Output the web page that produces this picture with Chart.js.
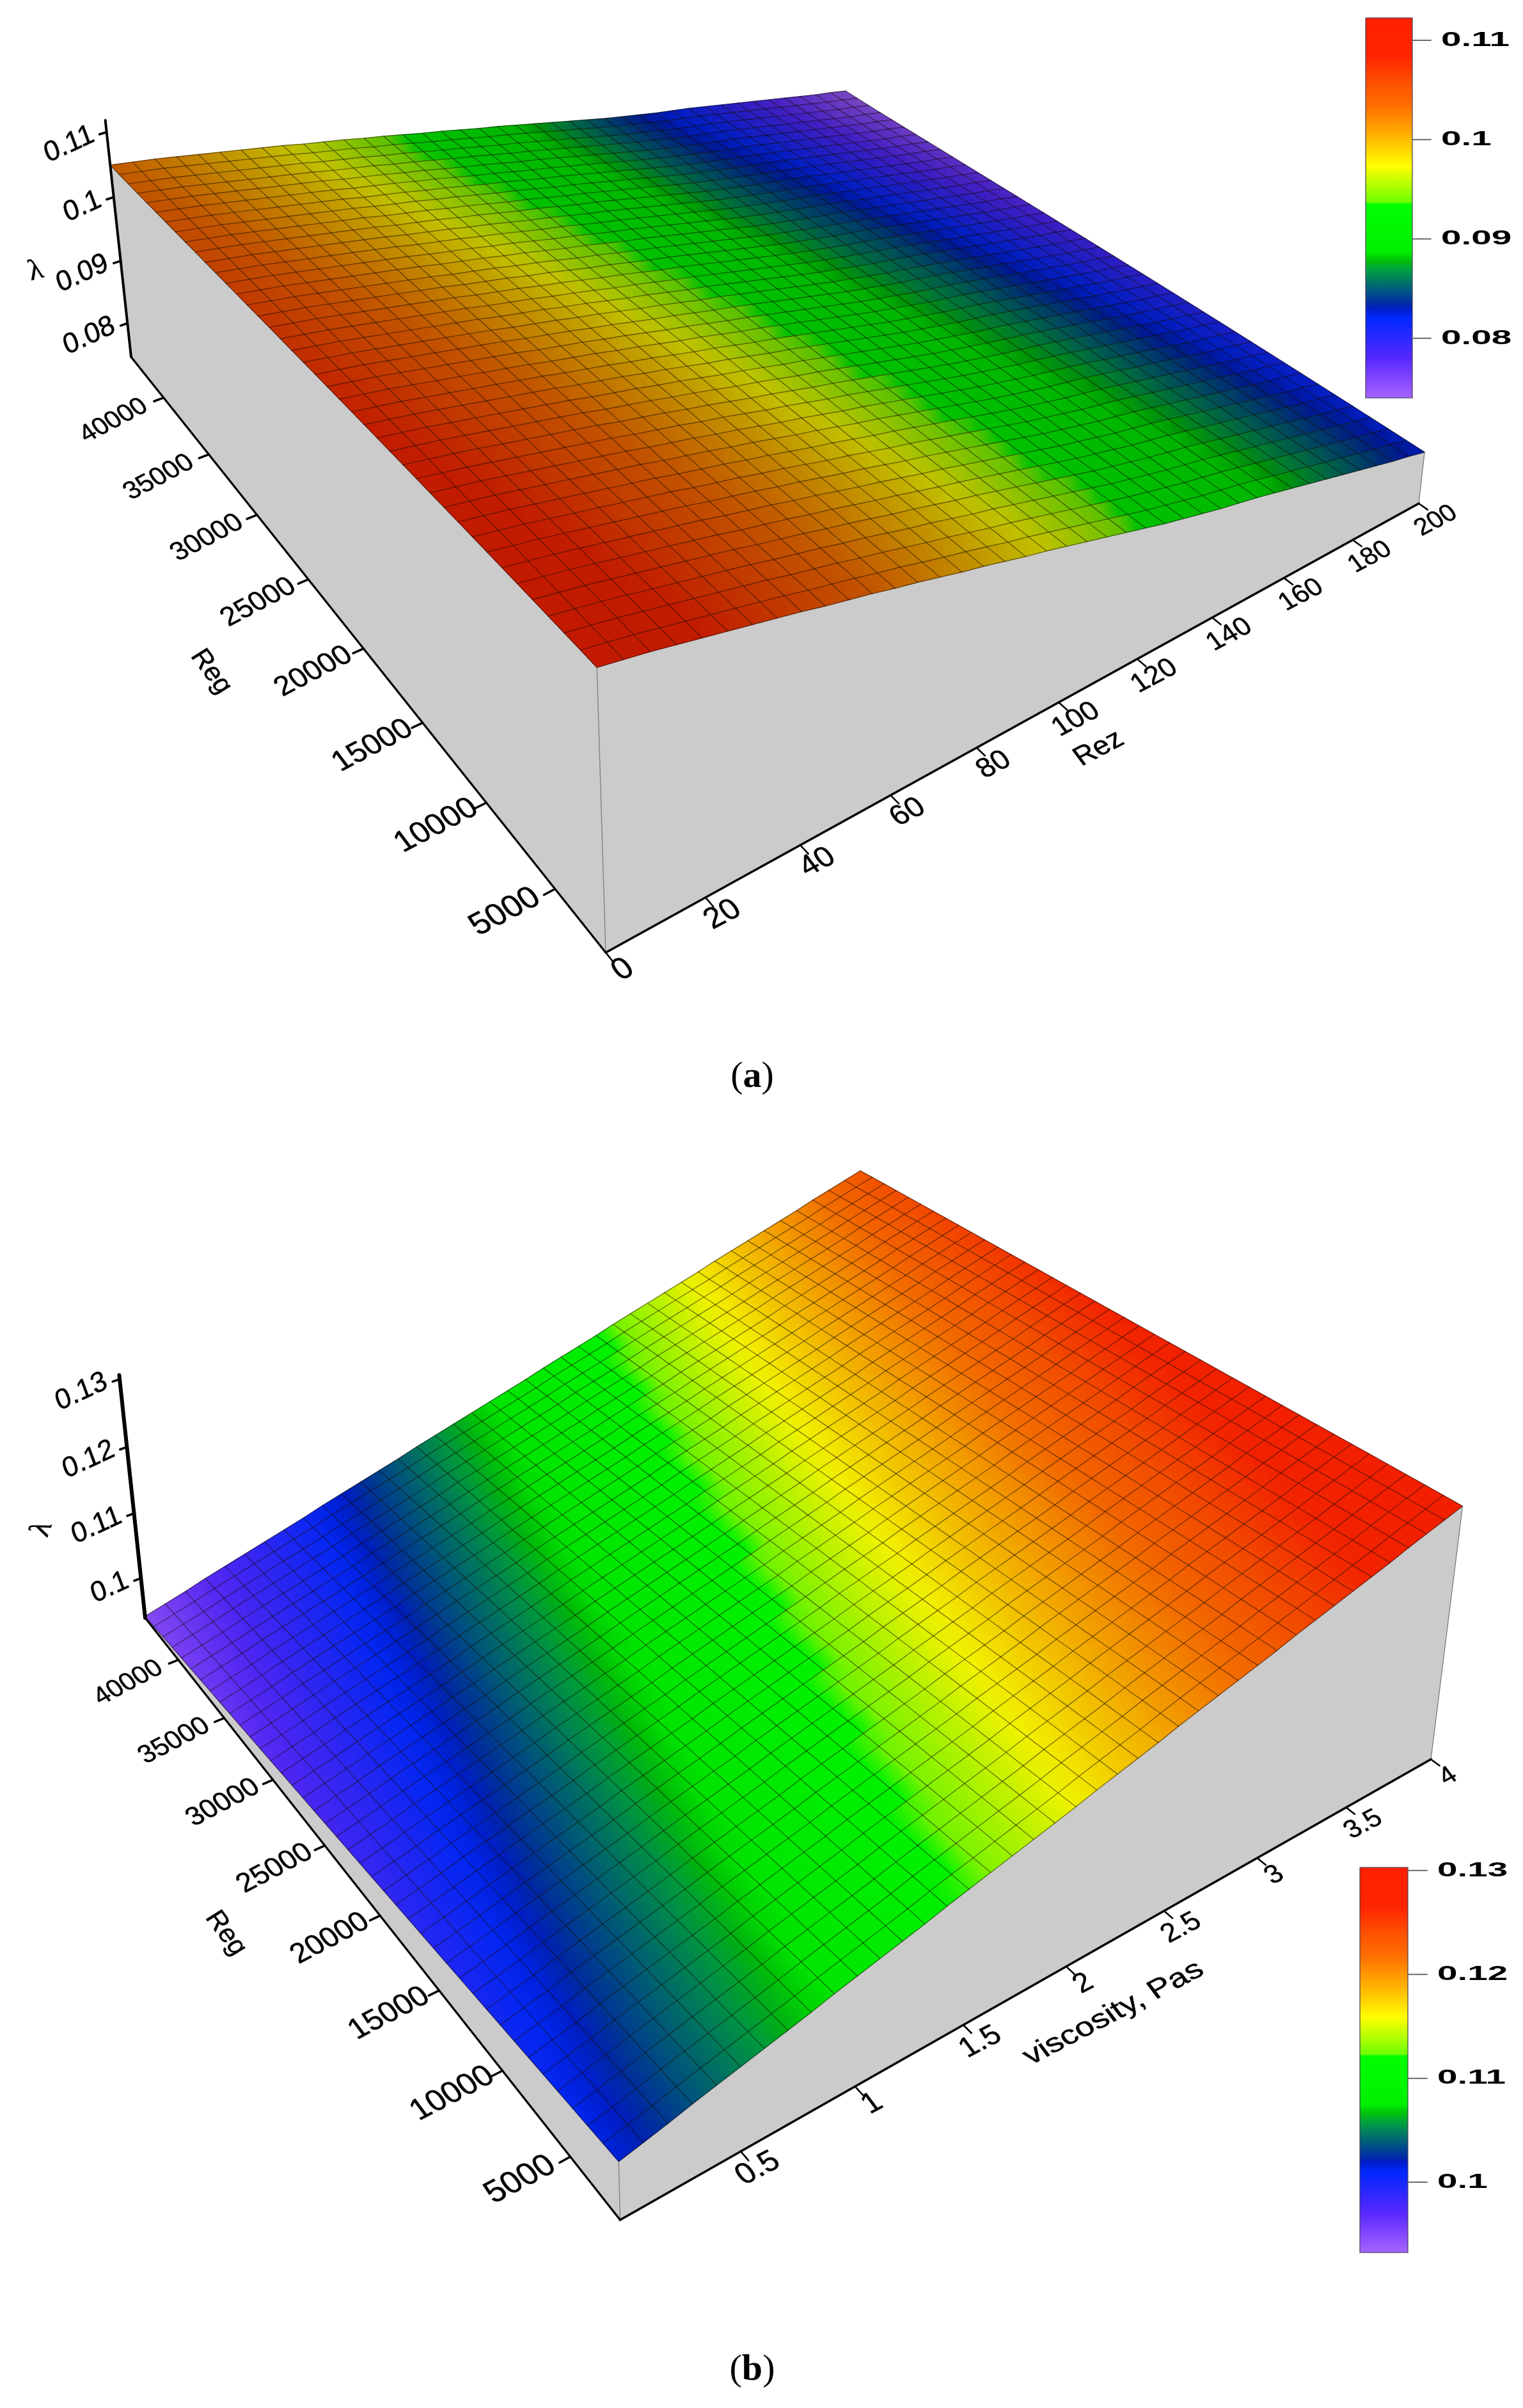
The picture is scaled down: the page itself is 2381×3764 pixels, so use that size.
<!DOCTYPE html>
<html><head><meta charset="utf-8">
<style>
html,body{margin:0;padding:0;background:#fff;width:2381px;height:3764px;overflow:hidden}
canvas{position:absolute;left:0;filter:blur(0.6px)}
.cap{position:absolute;left:1076px;width:200px;text-align:center;font:58px "Liberation Serif",serif;color:#000}
</style>
<script src="https://cdn.jsdelivr.net/npm/chart.js@4/dist/chart.umd.js"></script>
</head><body>
<canvas id="ca" width="2381" height="1750" style="top:0"></canvas>
<canvas id="cb" width="2381" height="2014" style="top:1750px"></canvas>
<div class="cap" style="top:1646px">(<b>a</b>)</div>
<div class="cap" style="top:3667px">(<b>b</b>)</div>
<script>
// ---------- values ----------
const rezTicks = [0,20,40,60,80,100,120,140,160,180,200];
const viscTicks = [0.5,1,1.5,2,2.5,3,3.5,4];
const regTicks = [5000,10000,15000,20000,25000,30000,35000,40000];
const lambdaTicksA = [0.08,0.09,0.1,0.11];
const lambdaTicksB = [0.1,0.11,0.12,0.13];
const rezRange = [0,200];
const viscRange = [0,4];
const regRange = [1550,43800];
// lambda along the front edge (lowest Reg), one value per mesh line
const lambdaFrontA = [
 .1112,.1106,.1100,.1093,.1086,.1079,.1072,.1065,.1058,.1050,
 .1043,.1036,.1028,.1021,.1013,.1005,.0998,.0990,.0982,.0975,
 .0967,.0959,.0951,.0943,.0935,.0927,.0920,.0913,.0906,.0900,
 .0894,.0887,.0880,.0873,.0866,.0859,.0852,.0845,.0838,.0832,.0825];
const lambdaFrontB = [
 .1015,.1022,.1029,.1037,.1044,.1051,.1058,.1065,.1072,.1080,
 .1087,.1094,.1101,.1108,.1116,.1123,.1130,.1137,.1144,.1151,
 .1158,.1166,.1173,.1180,.1187,.1195,.1202,.1209,.1216,.1223,
 .1230,.1238,.1245,.1252,.1259,.1266,.1273,.1281,.1288,.1295,.1302];
// relative fall of lambda going back along Reg, one value per mesh line
const regFallA = [
 1.0000,.9988,.9976,.9963,.9950,.9936,.9922,.9908,.9893,.9878,
 .9863,.9847,.9831,.9815,.9798,.9781,.9764,.9746,.9728,.9710,
 .9692,.9673,.9654,.9635,.9616,.9596,.9576,.9556,.9536,.9516,
 .9496,.9476,.9456,.9436,.9416,.9396,.9376,.9356,.9338,.9322,.9307];
const regFallB = [
 1.0000,.9986,.9972,.9957,.9943,.9928,.9913,.9898,.9883,.9868,
 .9853,.9838,.9823,.9808,.9793,.9778,.9763,.9748,.9733,.9718,
 .9703,.9688,.9673,.9658,.9643,.9628,.9613,.9598,.9583,.9568,
 .9553,.9538,.9523,.9508,.9493,.9478,.9463,.9448,.9432,.9416,.9400];
// colour map: fraction from top of the legend, r, g, b
const colorStops = [
 [0,255,32,0],[.10,255,36,0],[.17,255,80,0],[.23,255,110,0],[.30,255,170,0],[.345,255,210,0],
 [.39,255,255,0],[.44,180,255,0],[.485,110,255,0],[.49,0,255,0],[.615,0,240,0],[.64,0,190,10],
 [.66,0,165,60],[.70,0,110,110],[.755,0,40,170],[.765,0,30,200],[.79,0,40,255],[.84,40,40,255],
 [.895,85,40,255],[.95,130,70,255],[1,165,100,255]];

// ---------- frame of each panel (page pixels, style only) ----------
const panels = [
 {id:'ca',yTop:0,yBottom:1750,
  uRange:rezRange,uTicks:rezTicks,uTitle:'Rez',
  front:lambdaFrontA,fall:regFallA,fallRef:.09,colorShift:.002,zTicks:lambdaTicksA,
  lo:0.0745,hi:0.1130,axisTop:.1118,
  base:[[947,1489],[2218,787],[1322,157],[205,558]],
  vanish:[1202,9700],zeta:.054,
  shade:.76,axisW:4,
  uTitlePos:[1718,1170],uTitleK:1,
  regTitlePos:[330,1050],lamPos:[56,424],lamRot:-15*Math.PI/180,
  bar:{x0:2135,x1:2208,y0:28,y1:622,vTop:.11225,vBottom:.0740,tx:2237,lx:2253,ticks:[.08,.09,.1,.11]}},
 {id:'cb',yTop:1750,yBottom:3764,
  uRange:viscRange,uTicks:viscTicks,uTitle:'viscosity, Pas',
  front:lambdaFrontB,fall:regFallB,fallRef:.125,colorShift:-.0006,zTicks:lambdaTicksB,
  lo:0.09375,hi:0.1306,axisTop:.1306,
  base:[[969.5,3470],[2237,2750],[1340,2094],[227,2529]],
  vanish:[1166,11300],zeta:.0547,
  shade:.95,axisW:6,
  uTitlePos:[1741,3147],uTitleK:1.35,
  regTitlePos:[353,3022],lamPos:[66,2390],lamRot:-70*Math.PI/180,
  bar:{x0:2126,x1:2201,y0:2919,y1:3521,vTop:.1303,vBottom:.09323,tx:2231,lx:2247,ticks:[.1,.11,.12,.13]}}
];

function homography(q){
  const [p0,p1,p2,p3]=q;
  const sx=p0[0]-p1[0]+p2[0]-p3[0], sy=p0[1]-p1[1]+p2[1]-p3[1];
  const dx1=p1[0]-p2[0], dx2=p3[0]-p2[0], dy1=p1[1]-p2[1], dy2=p3[1]-p2[1];
  const den=dx1*dy2-dx2*dy1;
  const g=(sx*dy2-dx2*sy)/den, h=(dx1*sy-sx*dy1)/den;
  const a=p1[0]-p0[0]+g*p1[0], b=p3[0]-p0[0]+h*p3[0], c=p0[0];
  const d=p1[1]-p0[1]+g*p1[1], e=p3[1]-p0[1]+h*p3[1], f=p0[1];
  return (u,v)=>[a*u+b*v+c,d*u+e*v+f,g*u+h*v+1];
}
function cmap(fr,shade){
  fr=Math.max(0,Math.min(1,fr));
  let i=0;while(i<colorStops.length-2&&colorStops[i+1][0]<fr)i++;
  const s0=colorStops[i],s1=colorStops[i+1],t=(fr-s0[0])/(s1[0]-s0[0]);
  const c=[1,2,3].map(k=>Math.round((s0[k]+(s1[k]-s0[k])*t)*shade));
  return `rgb(${c[0]},${c[1]},${c[2]})`;
}
const SANS='"Liberation Sans",Arial,sans-serif', SERIF='"Liberation Serif",serif';
const E1=[.885,-.465], E2=[-.6,-.8];

panels.forEach(P=>{
  const canvas=document.getElementById(P.id), gctx=canvas.getContext('2d');
  const H=homography(P.base);
  const project=(u,v,l)=>{
    const t=(l-P.lo)/(P.hi-P.lo)*P.zeta, n=H(u,v), den=n[2]-t;
    return {x:(n[0]-t*P.vanish[0])/den,y:(n[1]-t*P.vanish[1])/den};
  };
  const uOf=val=>(val-P.uRange[0])/(P.uRange[1]-P.uRange[0]);
  const vOf=val=>(val-regRange[0])/(regRange[1]-regRange[0]);
  const nI=P.front.length-1,nJ=P.fall.length-1;
  const lam=(i,j)=>P.front[i]-(1-P.fall[j])*P.fallRef;
  const tone=(i,j)=>lam(i,j)-P.colorShift*j/nJ;
  const node=(i,j)=>project(i/nI,j/nJ,lam(i,j));
  const frac=v=>(P.bar.vTop-v)/(P.bar.vTop-P.bar.vBottom);
  const mid=(a,b)=>({x:(a.x+b.x)/2,y:(a.y+b.y)/2});
  const ds=[];
  const poly=(pts,fill,line,lw)=>ds.push({data:pts.concat([pts[0]]),showLine:true,fill:'shape',backgroundColor:fill,borderColor:line||fill,borderWidth:lw==null?1:lw,pointRadius:0,clip:false});
  const path=(pts,color,lw)=>ds.push({data:pts,showLine:true,fill:false,borderColor:color,borderWidth:lw,pointRadius:0,clip:false,borderCapStyle:'round',borderJoinStyle:'round'});

  // side walls
  const wallGrey='#cbcbcb';
  const left=[project(0,1,P.lo),project(0,0,P.lo)];
  for(let j=0;j<=nJ;j++)left.push(node(0,j));
  poly(left,wallGrey);
  const right=[project(0,0,P.lo),project(1,0,P.lo)];
  for(let i=nI;i>=0;i--)right.push(node(i,0));
  poly(right,wallGrey);

  // surface cells (gradients live in canvas pixels, so shift by the canvas top)
  for(let j=nJ-1;j>=0;j--)for(let i=0;i<nI;i++){
    const a=node(i,j),b=node(i+1,j),c=node(i+1,j+1),d=node(i,j+1);
    const p0=mid(a,d),p1=mid(b,c);
    const gr=gctx.createLinearGradient(p0.x,p0.y-P.yTop,p1.x,p1.y-P.yTop);
    gr.addColorStop(0,cmap(frac((tone(i,j)+tone(i,j+1))/2),P.shade));
    gr.addColorStop(1,cmap(frac((tone(i+1,j)+tone(i+1,j+1))/2),P.shade));
    poly([a,b,c,d],gr,gr,1);
  }
  // mesh
  const meshC='rgba(20,10,0,.5)';
  for(let i=0;i<=nI;i++){const l=[];for(let j=0;j<=nJ;j++)l.push(node(i,j));path(l,meshC,1.4);}
  for(let j=0;j<=nJ;j++){const l=[];for(let i=0;i<=nI;i++)l.push(node(i,j));path(l,meshC,1.4);}

  // box edges
  path([project(0,0,P.lo),node(0,0)],'#777',1.2);
  path([project(1,0,P.lo),node(nI,0)],'#777',1.2);

  // axes and ticks
  path([project(0,1,P.lo),project(0,1,P.axisTop)],'#000',P.axisW);
  path([project(0,1,P.lo),project(0,0,P.lo)],'#000',3.2);
  path([project(0,0,P.lo),project(1,0,P.lo)],'#000',3.6);
  P.zTicks.forEach(z=>path([project(0,1,z),project(-.008,1,z)],'#000',3.5));
  regTicks.forEach(r=>path([project(0,vOf(r),P.lo),project(-.011,vOf(r),P.lo)],'#000',3.5));
  P.uTicks.forEach(t=>path([project(uOf(t),0,P.lo),project(uOf(t),-.012,P.lo)],'#000',2.6));

  // colour legend, drawn on the same scales
  const br=P.bar, barGrad=gctx.createLinearGradient(0,br.y0-P.yTop,0,br.y1-P.yTop);
  colorStops.forEach(s=>barGrad.addColorStop(s[0],`rgb(${s[1]},${s[2]},${s[3]})`));
  poly([{x:br.x0,y:br.y0},{x:br.x1,y:br.y0},{x:br.x1,y:br.y1},{x:br.x0,y:br.y1}],barGrad,'rgba(70,60,90,.75)',1.6);
  const barY=v=>br.y0+(br.vTop-v)/(br.vTop-br.vBottom)*(br.y1-br.y0);
  br.ticks.forEach(v=>path([{x:br.x1,y:barY(v)},{x:br.tx,y:barY(v)}],'#6a6a6a',2));

  ds.forEach((d,k)=>{d.order=ds.length-k;});

  const textPlugin={id:'labels',afterDatasetsDraw(chart){
    const ctx=chart.ctx,X=chart.scales.x,Y=chart.scales.y;
    const put=(txt,x,y,e1,e2,size,align,font,k=1,h=1,weight=.5)=>{
      ctx.save();
      ctx.transform(e1[0]*k,e1[1]*k,-e2[0]*h,-e2[1]*h,X.getPixelForValue(x),Y.getPixelForValue(y));
      ctx.font=font||`${size}px ${SANS}`;
      ctx.textAlign=align||'center';ctx.textBaseline='middle';ctx.fillStyle='#000';
      ctx.fillText(txt,0,0);
      if(weight){ctx.strokeStyle='#000';ctx.lineWidth=weight;ctx.strokeText(txt,0,0);}
      ctx.restore();
    };
    const pers=(u,v)=>1.25/H(u,v)[2];
    // lambda axis
    const ze1=[.906,-.42],ze2=[-.35,-.94];
    P.zTicks.forEach(z=>{const p=project(0,1,z);put(String(z),p.x-21,p.y+2,ze1,ze2,44,'right');});
    // Reg axis
    regTicks.forEach(r=>{const v=vOf(r),p=project(0,v,P.lo);put(String(r),p.x-78,p.y+36,E1,E2,42*pers(0,v));});
    // u axis
    P.uTicks.forEach(t=>{const u=uOf(t),p=project(u,0,P.lo);put(String(t),p.x+27,p.y+27,E1,E2,40*pers(u,0));});
    // titles
    put(P.uTitle,P.uTitlePos[0],P.uTitlePos[1],E1,E2,44,'center',null,P.uTitleK*(P.uTitle==='Rez'?1:.87),1);
    put('Reg',P.regTitlePos[0],P.regTitlePos[1],[.6,.8],[.85,-.53],42);
    const c=Math.cos(P.lamRot),s=Math.sin(P.lamRot);
    put('λ',P.lamPos[0],P.lamPos[1],[c,s],[s,-c],46,'center',`46px ${SERIF}`);
    // legend labels
    br.ticks.forEach(v=>put(String(v),br.lx,barY(v),[1.77,0],[0,-1],32,'left',`bold 32px ${SANS}`,1,1,0));
  }};

  new Chart(canvas,{
    type:'scatter',
    data:{datasets:ds},
    options:{
      responsive:false,animation:false,events:[],devicePixelRatio:1,
      layout:{padding:0},
      plugins:{legend:{display:false},tooltip:{enabled:false},title:{display:false}},
      scales:{
        x:{type:'linear',display:false,min:0,max:2381},
        y:{type:'linear',display:false,min:P.yTop,max:P.yBottom,reverse:true}
      }
    },
    plugins:[textPlugin]
  });
});
</script>
</body></html>
